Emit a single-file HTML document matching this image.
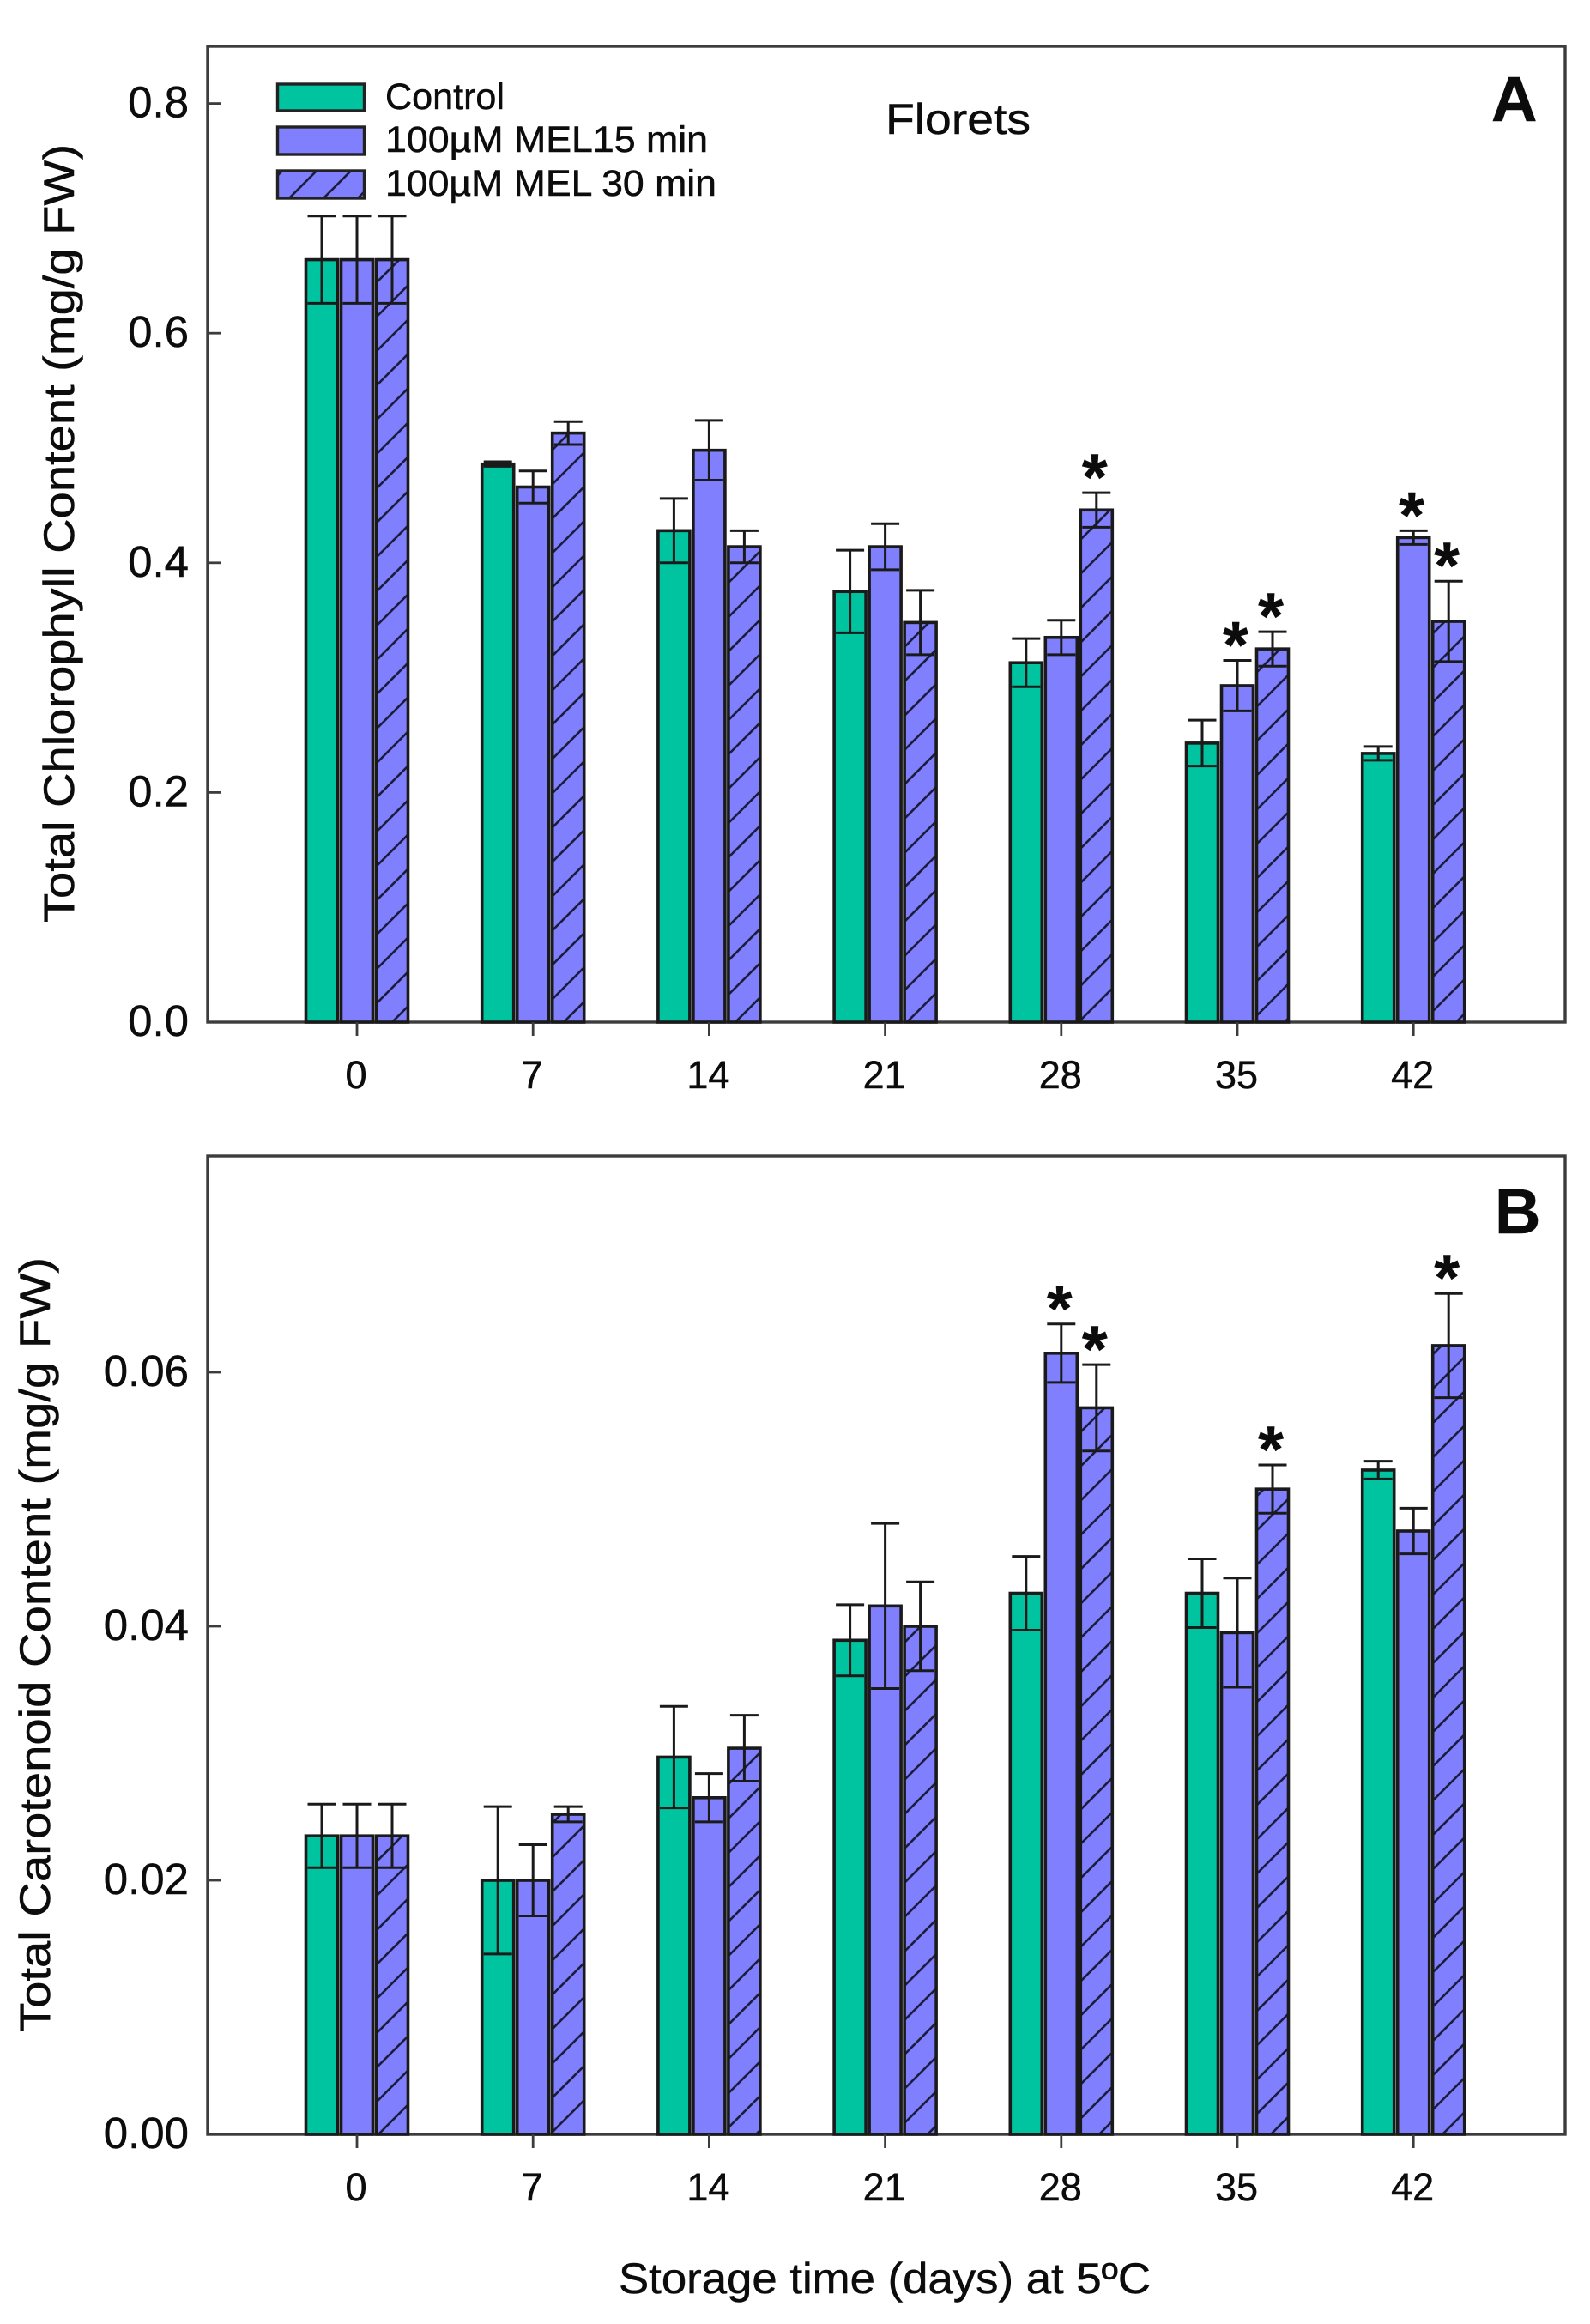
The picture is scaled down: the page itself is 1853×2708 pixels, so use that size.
<!DOCTYPE html>
<html lang="en">
<head>
<meta charset="utf-8">
<title>Total Chlorophyll and Carotenoid Content in Florets</title>
<style>
html,body{margin:0;padding:0;background:#fff;}
svg{display:block;}
text{font-family:"Liberation Sans",sans-serif;fill:#0c0c0c;stroke:#0c0c0c;stroke-width:0.5px;}
</style>
</head>
<body>
<svg id="chart" xmlns="http://www.w3.org/2000/svg" width="1853" height="2708" viewBox="0 0 1853 2708">
  <defs>
    <pattern id="hatch" patternUnits="userSpaceOnUse" width="40" height="40" patternTransform="translate(8 0)">
      <rect width="40" height="40" fill="#8080ff"></rect>
      <path d="M-10 10 L10 -10 M0 40 L40 0 M30 50 L50 30" stroke="#1c1c3c" stroke-width="2.6" fill="none"></path>
    </pattern>
  </defs>
  <rect width="1853" height="2708" fill="#ffffff"></rect>

  <g id="panel-a">
    <rect x="242" y="54" width="1582" height="1137" fill="none" stroke="#3c3c3c" stroke-width="3.4"></rect>
    <text transform="translate(86 1075) rotate(-90)" font-size="50" textLength="907" lengthAdjust="spacingAndGlyphs">Total Chlorophyll Content (mg/g FW)</text>
    <text x="1032" y="156" font-size="50" textLength="169" lengthAdjust="spacingAndGlyphs">Florets</text>
    <text x="1738" y="141" font-size="74" font-weight="bold">A</text>
    <g>
      <g>
        <rect x="323.5" y="98" width="101" height="31" fill="#00c4a0" stroke="#222" stroke-width="3.4"></rect>
        <text x="449" y="127" font-size="43" textLength="139" lengthAdjust="spacingAndGlyphs">Control</text>
      </g>
      <g>
        <rect x="323.5" y="148" width="101" height="32" fill="#8080ff" stroke="#222" stroke-width="3.4"></rect>
        <text x="449" y="177" font-size="43" textLength="376" lengthAdjust="spacingAndGlyphs">100µM MEL15 min</text>
      </g>
      <g>
        <rect x="323.5" y="199" width="101" height="32" fill="url(#hatch)" stroke="#222" stroke-width="3.4"></rect>
        <text x="449" y="228" font-size="43" textLength="386" lengthAdjust="spacingAndGlyphs">100µM MEL 30 min</text>
      </g>
    </g>
  </g>

  <g id="panel-b">
    <rect x="242" y="1347" width="1582" height="1140" fill="none" stroke="#3c3c3c" stroke-width="3.4"></rect>
    <text transform="translate(58 2368) rotate(-90)" font-size="50" textLength="903" lengthAdjust="spacingAndGlyphs">Total Carotenoid Content (mg/g FW)</text>
    <text x="1742" y="1437" font-size="74" font-weight="bold">B</text>
    <text x="721" y="2672" font-size="50" textLength="620" lengthAdjust="spacingAndGlyphs">Storage time (days) at 5ºC</text>
  </g>
</svg>

<script>
// Shared categories
const days = ['0', '7', '14', '21', '28', '35', '42'];

// Panel A: total chlorophyll (mg/g FW)
const chlControl = [0.664, 0.486, 0.428, 0.375, 0.313, 0.243, 0.234];
const chlMel15 = [0.664, 0.466, 0.498, 0.414, 0.335, 0.293, 0.422];
const chlMel30 = [0.664, 0.513, 0.414, 0.348, 0.446, 0.325, 0.349];
const chlControlErr = [0.038, 0.002, 0.028, 0.036, 0.021, 0.020, 0.006];
const chlMel15Err = [0.038, 0.014, 0.026, 0.020, 0.015, 0.022, 0.006];
const chlMel30Err = [0.038, 0.010, 0.014, 0.028, 0.015, 0.015, 0.035];
const chlMel15Sig = [0, 0, 0, 0, 0, 1, 1];
const chlMel30Sig = [0, 0, 0, 0, 1, 1, 1];
const chlTicks = [0, 0.2, 0.4, 0.6, 0.8];
const chlTickLabels = ['0.0', '0.2', '0.4', '0.6', '0.8'];

// Panel B: total carotenoid (mg/g FW)
const carControl = [0.0235, 0.0200, 0.0297, 0.0389, 0.0426, 0.0426, 0.0523];
const carMel15 = [0.0235, 0.0200, 0.0265, 0.0416, 0.0615, 0.0395, 0.0475];
const carMel30 = [0.0235, 0.0252, 0.0304, 0.0400, 0.0572, 0.0508, 0.0621];
const carControlErr = [0.0025, 0.0058, 0.0040, 0.0028, 0.0029, 0.0027, 0.0007];
const carMel15Err = [0.0025, 0.0028, 0.0019, 0.0065, 0.0023, 0.0043, 0.0018];
const carMel30Err = [0.0025, 0.0006, 0.0026, 0.0035, 0.0034, 0.0019, 0.0041];
const carMel15Sig = [0, 0, 0, 0, 1, 0, 0];
const carMel30Sig = [0, 0, 0, 0, 1, 1, 1];
const carTicks = [0, 0.02, 0.04, 0.06];
const carTickLabels = ['0.00', '0.02', '0.04', '0.06'];

const NS = 'http://www.w3.org/2000/svg';
const X_FIRST = 416;
const X_STEP = 205.2;
const BAR_PITCH = 41;
const BAR_WIDTH = 37;
const CAP_HALF = 16.5;

function xScale(i) { return X_FIRST + X_STEP * i; }
function yScaleA(v) { return 1191 - v * 1338; }
function yScaleB(v) { return 2487 - v * 14800; }

function mk(parent, tag, attrs, text) {
  const el = document.createElementNS(NS, tag);
  for (const k in attrs) el.setAttribute(k, attrs[k]);
  if (text !== undefined) el.textContent = text;
  parent.appendChild(el);
  return el;
}

function drawAxes(group, yScale, baseY, ticks, labels) {
  ticks.forEach(function (t, i) {
    const y = yScale(t);
    if (i > 0) {
      const mark = mk(group, 'line', { x1: 242, x2: 257, y1: y, y2: y, stroke: '#3c3c3c', 'stroke-width': 2.8 });
      
      
    }
    const label = mk(group, 'text', { x: 220, y: y + 16, 'font-size': 51, 'text-anchor': 'end' }, labels[i]);
    
    
  });
  days.forEach(function (d, i) {
    const x = xScale(i);
    const mark = mk(group, 'line', { x1: x, x2: x, y1: baseY, y2: baseY + 16, stroke: '#3c3c3c', 'stroke-width': 2.8 });
    
    
    const label = mk(group, 'text', { x: x - 1, y: baseY + 77, 'font-size': 45, 'text-anchor': 'middle' }, d);
    
    
  });
}

function drawSeries(group, yScale, baseY, values, errs, sig, offset, fill, seriesName) {
  values.forEach(function (v, i) {
    const cx = xScale(i) + offset;
    const top = yScale(v);
    const bar = mk(group, 'rect', {
      x: cx - BAR_WIDTH / 2, y: top, width: BAR_WIDTH, height: baseY - top,
      fill: fill, stroke: '#1a1a1a', 'stroke-width': 3.6
    });
    
    

    const hi = yScale(v + errs[i]);
    const lo = yScale(v - errs[i]);
    const err = mk(group, 'path', {
      d: 'M' + cx + ' ' + hi + 'V' + lo +
         'M' + (cx - CAP_HALF) + ' ' + hi + 'H' + (cx + CAP_HALF) +
         'M' + (cx - CAP_HALF) + ' ' + lo + 'H' + (cx + CAP_HALF),
      stroke: '#1a1a1a', 'stroke-width': 3, fill: 'none'
    });
    
    

    if (sig && sig[i]) {
      const star = mk(group, 'text', {
        x: cx - 2, y: hi + 8, 'font-size': 76, 'font-weight': 'bold', 'text-anchor': 'middle'
      }, '*');
      
      
    }
  });
}

const panelA = document.getElementById('panel-a');
const panelB = document.getElementById('panel-b');

drawSeries(panelA, yScaleA, 1191, chlControl, chlControlErr, null, -BAR_PITCH, '#00c4a0', 'control');
drawSeries(panelA, yScaleA, 1191, chlMel15, chlMel15Err, chlMel15Sig, 0, '#8080ff', 'mel-15');
drawSeries(panelA, yScaleA, 1191, chlMel30, chlMel30Err, chlMel30Sig, BAR_PITCH, 'url(#hatch)', 'mel-30');
drawAxes(panelA, yScaleA, 1191, chlTicks, chlTickLabels);

drawSeries(panelB, yScaleB, 2487, carControl, carControlErr, null, -BAR_PITCH, '#00c4a0', 'control');
drawSeries(panelB, yScaleB, 2487, carMel15, carMel15Err, carMel15Sig, 0, '#8080ff', 'mel-15');
drawSeries(panelB, yScaleB, 2487, carMel30, carMel30Err, carMel30Sig, BAR_PITCH, 'url(#hatch)', 'mel-30');
drawAxes(panelB, yScaleB, 2487, carTicks, carTickLabels);
</script>
</body>
</html>
